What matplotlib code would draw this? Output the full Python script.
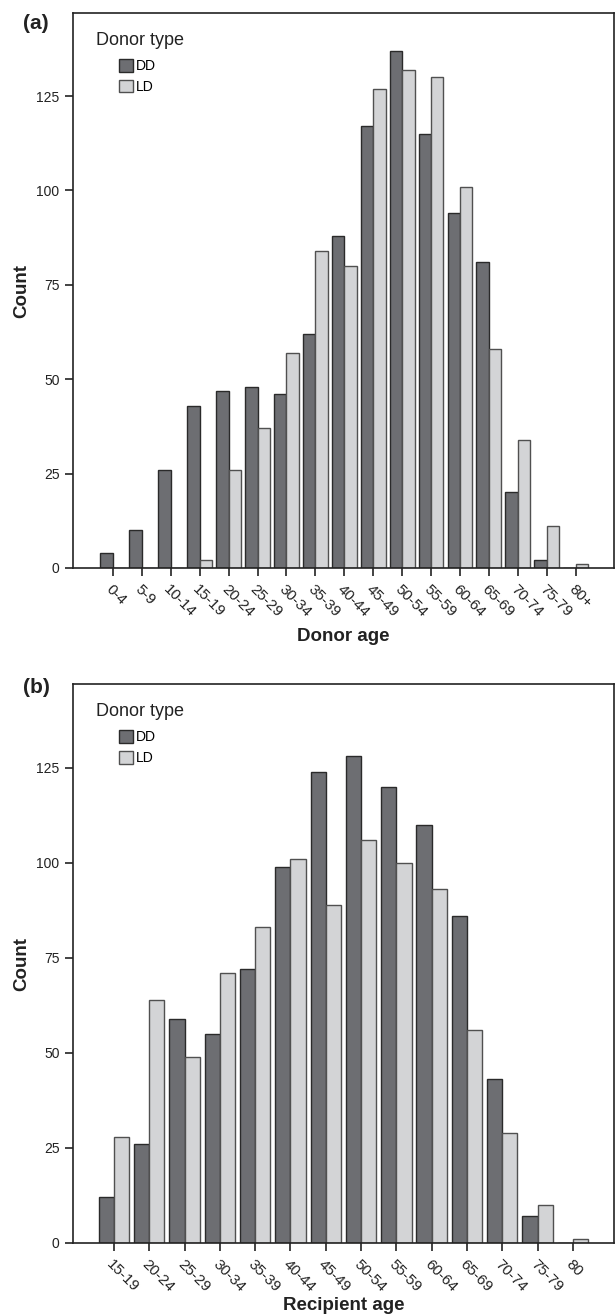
import numpy as np
import matplotlib.pyplot as plt

plt.rcParams['font.family'] = ['Liberation Sans', 'DejaVu Sans']

# panel (a) donor age
donor_ages = ["0-4", "5-9", "10-14", "15-19", "20-24", "25-29", "30-34", "35-39",
              "40-44", "45-49", "50-54", "55-59", "60-64", "65-69", "70-74", "75-79", "80+"]
donor_dd = [4, 10, 26, 43, 47, 48, 46, 62, 88, 117, 137, 115, 94, 81, 20, 2, 0]
donor_ld = [0, 0, 0, 2, 26, 37, 57, 84, 80, 127, 132, 130, 101, 58, 34, 11, 1]

# panel (b) recipient age
recip_ages = ["15-19", "20-24", "25-29", "30-34", "35-39", "40-44", "45-49",
              "50-54", "55-59", "60-64", "65-69", "70-74", "75-79", "80"]
recip_dd = [12, 26, 59, 55, 72, 99, 124, 128, 120, 110, 86, 43, 7, 0]
recip_ld = [28, 64, 49, 71, 83, 101, 89, 106, 100, 93, 56, 29, 10, 1]

dd_color = "#6d6e72"
ld_color = "#d3d4d6"

fig = plt.figure(figsize=(6.16, 13.16), dpi=100)
ax_a = fig.add_axes([0.118, 0.5684, 0.879, 0.4217])
ax_b = fig.add_axes([0.118, 0.0555, 0.879, 0.4247])


def draw_panel(ax, ages, dd, ld, xlabel, xlim, letter, letter_y, xpad):
    x = np.arange(len(ages))
    w = 0.43
    ax.bar(x - w / 2, dd, w, color=dd_color, edgecolor="#2a2a2a", linewidth=1.0, label="DD")
    ax.bar(x + w / 2, ld, w, color=ld_color, edgecolor="#505050", linewidth=1.0, label="LD")
    ax.set_xlim(*xlim)
    ax.set_ylim(0, 147)
    ax.set_yticks([0, 25, 50, 75, 100, 125])
    ax.set_xticks(x)
    ax.set_xticklabels(ages, rotation=-45, ha="left", va="top", rotation_mode="anchor")
    ax.tick_params(axis="both", direction="out", length=6, width=1.2, labelsize=11,
                   colors="#222222")
    ax.tick_params(axis="y", labelsize=10)
    ax.tick_params(axis="x", pad=4)
    for s in ax.spines.values():
        s.set_linewidth(1.2)
        s.set_color("#222222")
    ax.set_xlabel(xlabel, fontsize=13.5, fontweight="bold", labelpad=xpad, color="#222222")
    ax.set_ylabel("Count", fontsize=13.5, fontweight="bold", labelpad=4, color="#222222")
    ax.text(0.043, 0.951, "Donor type", transform=ax.transAxes, fontsize=13,
            ha="left", va="center", color="#222222")
    ax.legend(loc="upper left", bbox_to_anchor=(0.0855, 0.917), frameon=False,
              fontsize=10, handlelength=1.0, handleheight=1.0, handletextpad=0.25,
              labelspacing=0.5, borderpad=0, borderaxespad=0)
    ax.text(-0.092, letter_y, letter, transform=ax.transAxes, fontsize=15,
            fontweight="bold", ha="left", va="center", color="#222222")


draw_panel(ax_a, donor_ages, donor_dd, donor_ld, "Donor age", (-1.39, 17.33), "(a)", 0.982, 6)
draw_panel(ax_b, recip_ages, recip_dd, recip_ld, "Recipient age", (-1.17, 14.17), "(b)", 0.993, 2)

fig.savefig("out.png", dpi=100)
